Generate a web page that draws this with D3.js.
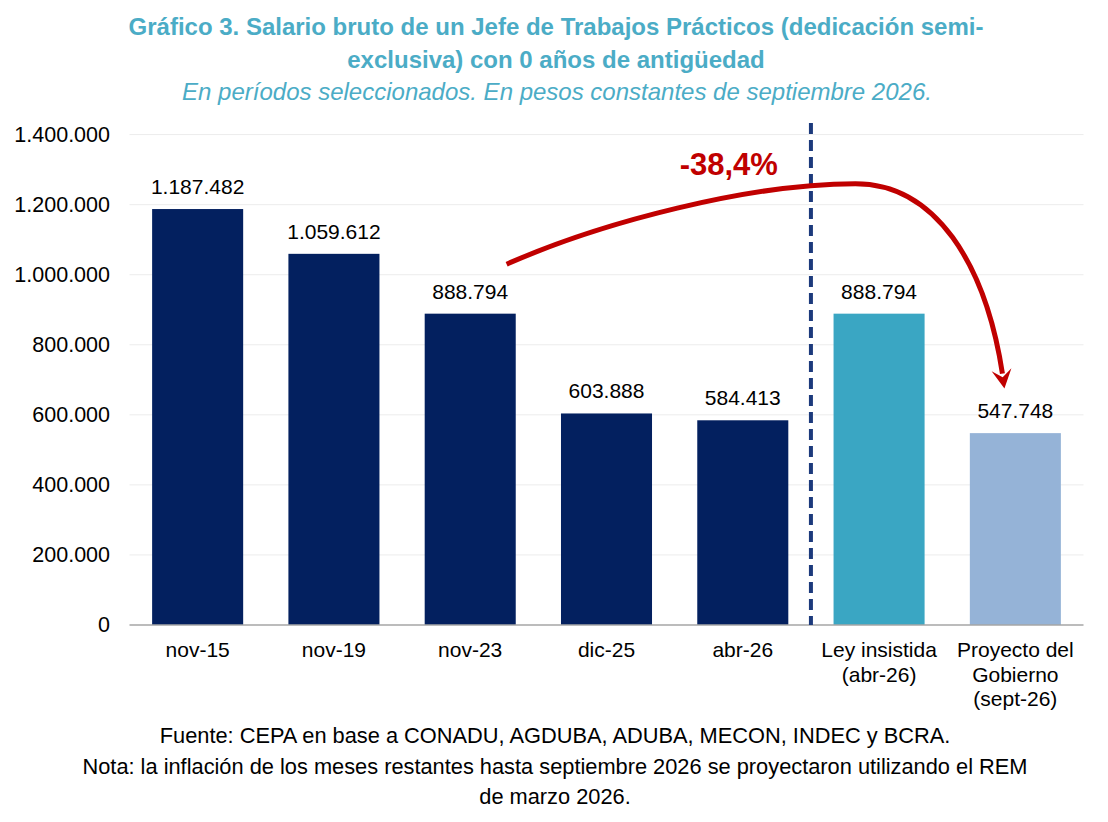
<!DOCTYPE html>
<head>
  <meta charset="utf-8">
  <script src="https://d3js.org/d3.v7.min.js"></script>
  <style>
    body { margin: 0; background: #fff; }
    text { font-family: "Liberation Sans", Arial, sans-serif; }
  </style>
</head>
<body>
  <div class="chart"></div>
  <script>
    // chart data
    var categories = ["nov-15", "nov-19", "nov-23", "dic-25", "abr-26", "Ley insistida|(abr-26)", "Proyecto del|Gobierno|(sept-26)"];
    var salaries = [1187482, 1059612, 888794, 603888, 584413, 888794, 547748];
    var barGroups = ["hist", "hist", "hist", "hist", "hist", "ley", "proy"];
    var yTicks = [0, 200000, 400000, 600000, 800000, 1000000, 1200000, 1400000];
    var changeLabel = "-38,4%";

    var titleLines = [
      "Gráfico 3. Salario bruto de un Jefe de Trabajos Prácticos (dedicación semi-",
      "exclusiva) con 0 años de antigüedad"
    ];
    var subtitle = "En períodos seleccionados. En pesos constantes de septiembre 2026.";
    var footerLines = [
      "Fuente: CEPA en base a CONADU, AGDUBA, ADUBA, MECON, INDEC y BCRA.",
      "Nota: la inflación de los meses restantes hasta septiembre 2026 se proyectaron utilizando el REM",
      "de marzo 2026."
    ];

    (function() {
      var width = 1108, height = 822;
      var colors = { hist: "#03205F", ley: "#3AA6C3", proy: "#95B3D7" };

      var svg = d3.select(".chart")
        .append("svg")
        .attr("width", width)
        .attr("height", height);

      var es = d3.formatLocale({ decimal: ",", thousands: ".", grouping: [3], currency: ["$", ""] });
      var fmt = es.format(",d");

      var data = categories.map(function(c, i) {
        return { cat: c, value: salaries[i], group: barGroups[i] };
      });

      var x = d3.scaleBand()
        .domain(categories)
        .range([129.5, 1083.5])
        .paddingInner(0.332)
        .paddingOuter(0.166);

      var y = d3.scaleLinear()
        .domain([0, 1400000])
        .range([625, 134.6]);

      // titles
      svg.selectAll(".title")
        .data(titleLines)
        .enter().append("text")
        .attr("class", "title")
        .attr("x", 556)
        .attr("y", function(d, i) { return 35 + i * 33 })
        .attr("text-anchor", "middle")
        .attr("font-size", 24)
        .attr("font-weight", "bold")
        .attr("fill", "#4BACC6")
        .text(function(d) { return d });

      svg.append("text")
        .attr("x", 557)
        .attr("y", 100)
        .attr("text-anchor", "middle")
        .attr("font-size", 24)
        .attr("font-style", "italic")
        .attr("fill", "#4BACC6")
        .text(subtitle);

      // gridlines
      svg.selectAll(".grid")
        .data(yTicks.slice(1))
        .enter().append("line")
        .attr("class", "grid")
        .attr("x1", x.range()[0])
        .attr("x2", x.range()[1])
        .attr("y1", function(d) { return y(d) })
        .attr("y2", function(d) { return y(d) })
        .attr("stroke", "#ececec")
        .attr("stroke-width", 1);

      // y axis labels
      var yAxis = d3.axisLeft(y)
        .tickValues(yTicks)
        .tickFormat(fmt)
        .tickSize(0)
        .tickPadding(0);

      var yg = svg.append("g")
        .attr("transform", "translate(110,0)")
        .call(yAxis);
      yg.select(".domain").remove();
      yg.selectAll("text")
        .attr("font-size", 21.5)
        .attr("fill", "#000")
        .attr("font-family", "Liberation Sans, Arial, sans-serif");

      // bars
      svg.selectAll(".bar")
        .data(data)
        .enter().append("rect")
        .attr("class", "bar")
        .attr("x", function(d) { return x(d.cat) })
        .attr("width", x.bandwidth())
        .attr("y", function(d) { return y(d.value) })
        .attr("height", function(d) { return y(0) - y(d.value) })
        .attr("fill", function(d) { return colors[d.group] });

      // value labels
      svg.selectAll(".val")
        .data(data)
        .enter().append("text")
        .attr("class", "val")
        .attr("x", function(d) { return x(d.cat) + x.bandwidth() / 2 })
        .attr("y", function(d) { return y(d.value) - 15 })
        .attr("text-anchor", "middle")
        .attr("font-size", 21)
        .attr("fill", "#000")
        .text(function(d) { return fmt(d.value) });

      // x axis baseline
      svg.append("line")
        .attr("x1", x.range()[0])
        .attr("x2", x.range()[1])
        .attr("y1", y(0))
        .attr("y2", y(0))
        .attr("stroke", "#A6A6A6")
        .attr("stroke-width", 1.5);

      // category labels
      var xl = svg.selectAll(".xlab")
        .data(categories)
        .enter().append("text")
        .attr("class", "xlab")
        .attr("text-anchor", "middle")
        .attr("font-size", 21)
        .attr("fill", "#000");
      xl.selectAll("tspan")
        .data(function(d) { return d.split("|").map(function(s) { return { s: s, c: d } }) })
        .enter().append("tspan")
        .attr("x", function(d) { return x(d.c) + x.bandwidth() / 2 })
        .attr("y", function(d, i) { return 657 + i * 24.5 })
        .text(function(d) { return d.s });

      // dashed separator between abr-26 and Ley insistida
      var sepX = (x(categories[4]) + x.bandwidth() + x(categories[5])) / 2;
      svg.append("line")
        .attr("x1", sepX)
        .attr("x2", sepX)
        .attr("y1", 123)
        .attr("y2", y(0))
        .attr("stroke", "#1C3A7C")
        .attr("stroke-width", 4)
        .attr("stroke-dasharray", "11,6");

      // red arrow from nov-23 to the government's project
      var bw = x.bandwidth();
      var p0 = [x(categories[2]) + 0.9 * bw, y(1030000)];
      var pk = [x(categories[5]) + 0.24 * bw, y(1260000)];
      var tip = [x(categories[6]) + 0.38 * bw, y(675000)];
      var end = [tip[0] - 2, tip[1] - 15];

      var path = d3.path();
      path.moveTo(p0[0], p0[1]);
      path.bezierCurveTo(p0[0] + 95, p0[1] - 42, pk[0] - 105, pk[1], pk[0], pk[1]);
      path.bezierCurveTo(pk[0] + 80, pk[1], end[0] - 17, end[1] - 110, end[0], end[1]);

      svg.append("path")
        .attr("d", path.toString())
        .attr("fill", "none")
        .attr("stroke", "#C00000")
        .attr("stroke-width", 5);

      // arrowhead
      var ang = Math.atan2(110, 17);
      var headLen = 19, headW = 10;
      var bx = tip[0] - headLen * Math.cos(ang), by = tip[1] - headLen * Math.sin(ang);
      var nx = -Math.sin(ang), ny = Math.cos(ang);
      var notch = [tip[0] - headLen * 0.6 * Math.cos(ang), tip[1] - headLen * 0.6 * Math.sin(ang)];
      svg.append("path")
        .attr("d", "M" + tip[0] + "," + tip[1] +
          "L" + (bx + nx * headW) + "," + (by + ny * headW) +
          "L" + notch[0] + "," + notch[1] +
          "L" + (bx - nx * headW) + "," + (by - ny * headW) + "Z")
        .attr("fill", "#C00000");

      svg.append("text")
        .attr("x", (x(categories[4]) + bw / 2) - 14)
        .attr("y", 175)
        .attr("text-anchor", "middle")
        .attr("font-size", 31)
        .attr("font-weight", "bold")
        .attr("fill", "#C00000")
        .text(changeLabel);

      // footer
      svg.selectAll(".foot")
        .data(footerLines)
        .enter().append("text")
        .attr("class", "foot")
        .attr("x", 555)
        .attr("y", function(d, i) { return 743 + i * 30.5 })
        .attr("text-anchor", "middle")
        .attr("font-size", 21.8)
        .attr("fill", "#000")
        .text(function(d) { return d });
    })();
  </script>
</body>
